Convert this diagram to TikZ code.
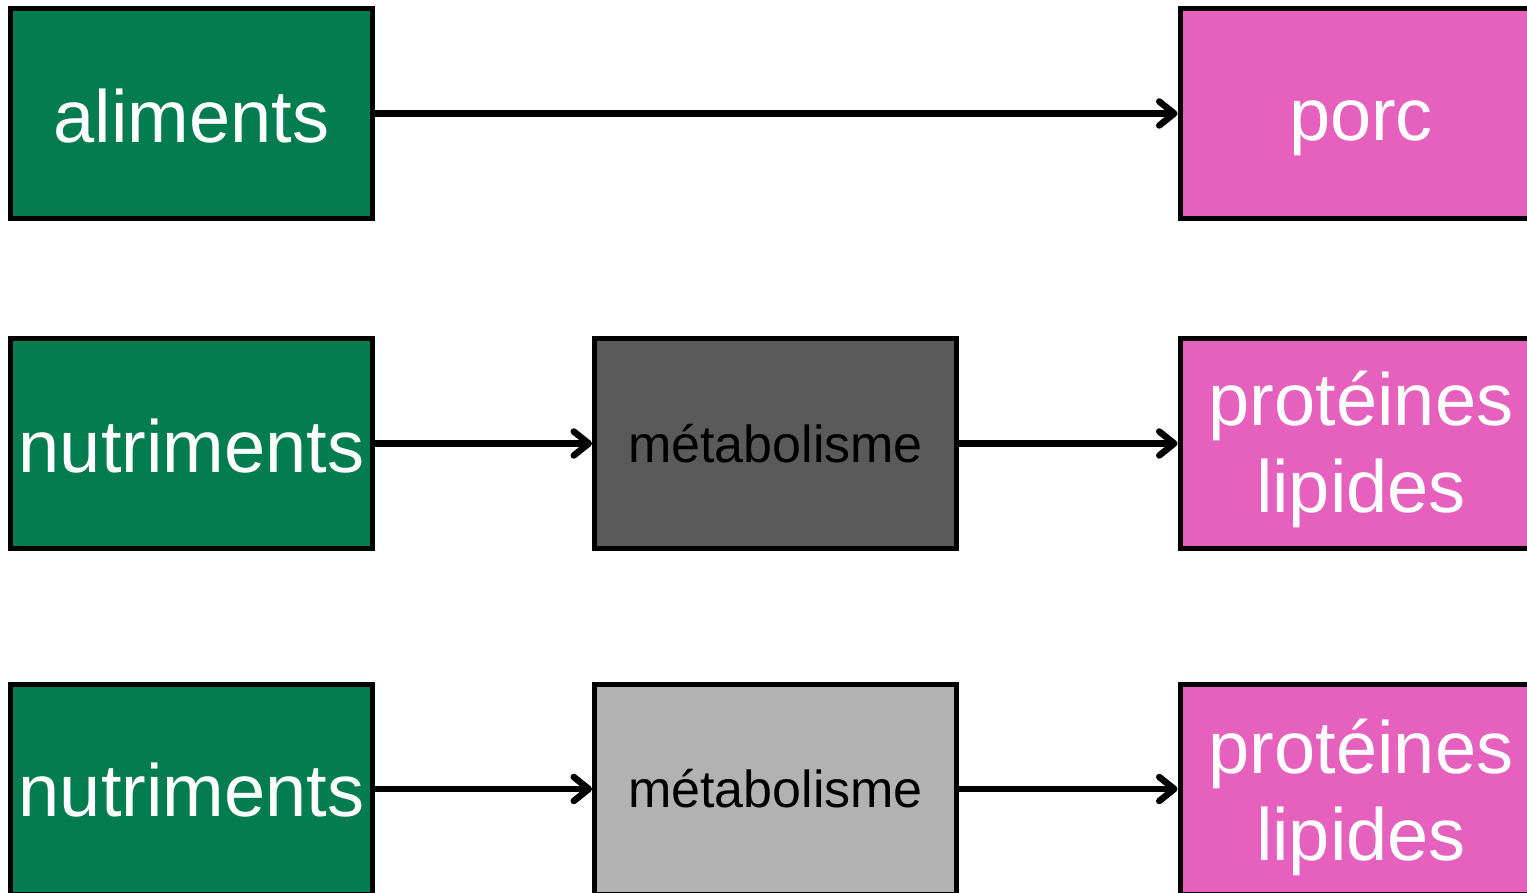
\documentclass[tikz,border=0pt]{standalone}
\usepackage{fontspec}
\setmainfont{Liberation Sans}
\usetikzlibrary{arrows.meta}
\definecolor{vert}{HTML}{037D50}
\definecolor{rose}{HTML}{E660BE}
\definecolor{gsombre}{HTML}{5A5A5A}
\definecolor{gclair}{HTML}{B2B2B2}
\tikzset{
  boite/.style={draw=black, line width=5pt, rectangle, inner sep=0pt,
    minimum width=362pt, minimum height=210pt},
  gbox/.style={boite, fill=vert},
  pbox/.style={boite, fill=rose},
  mbox/.style={boite},
  grand/.style={anchor=base, inner sep=0pt, text=white, font=\fontsize{74}{88}\selectfont},
  petit/.style={anchor=base, inner sep=0pt, text=black, font=\fontsize{52}{62}\selectfont},
  fleche/.style={line width=6.5pt, -{Straight Barb[length=15pt,width=24pt,line cap=round,round]}}
}
\begin{document}
\begin{tikzpicture}[x=1pt, y=-1pt]
\useasboundingbox (0,0) rectangle (1527,893);
% row 1
\node[gbox] (g1) at (191.5,113.5) {};
\node[pbox] (p1) at (1361,113.5) {};
\node[grand] (g1t) at ([yshift=-29pt]g1.center) {aliments};
\node[grand] (p1t) at ([yshift=-27pt]p1.center) {porc};
\draw[fleche] (g1.east) -- (p1.west);
% row 2
\node[gbox] (g2) at (191.5,443.5) {};
\node[mbox, fill=gsombre] (m2) at (775.5,443.5) {};
\node[pbox] (p2) at (1361,443.5) {};
\node[grand] (g2t) at ([yshift=-29pt]g2.center) {nutriments};
\node[petit] (m2t) at ([yshift=-19pt]m2.center) {métabolisme};
\node[grand] (p2a) at ([yshift=18pt]p2.center) {protéines};
\node[grand] (p2b) at ([yshift=-69pt]p2.center) {lipides};
\draw[fleche] (g2.east) -- (m2.west);
\draw[fleche] (m2.east) -- (p2.west);
% row 3
\node[gbox] (g3) at (191.5,789) {};
\node[mbox, fill=gclair] (m3) at (775.5,789) {};
\node[pbox] (p3) at (1361,789) {};
\node[grand] (g3t) at ([yshift=-27pt]g3.center) {nutriments};
\node[petit] (m3t) at ([yshift=-18pt]m3.center) {métabolisme};
\node[grand] (p3a) at ([yshift=16pt]p3.center) {protéines};
\node[grand] (p3b) at ([yshift=-71pt]p3.center) {lipides};
\draw[fleche] (g3.east) -- (m3.west);
\draw[fleche] (m3.east) -- (p3.west);
\end{tikzpicture}
\end{document}
